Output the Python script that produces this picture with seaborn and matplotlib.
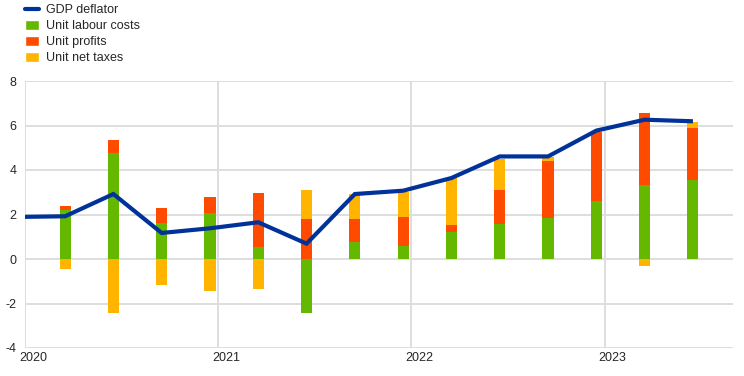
import matplotlib
matplotlib.use("Agg")
import matplotlib.pyplot as plt
from matplotlib.lines import Line2D
from matplotlib.patches import Patch
import seaborn as sns
import pandas as pd
import numpy as np

quarters = ["2020Q1", "2020Q2", "2020Q3", "2020Q4", "2021Q1", "2021Q2", "2021Q3",
            "2021Q4", "2022Q1", "2022Q2", "2022Q3", "2022Q4", "2023Q1", "2023Q2"]
unit_labour = [2.22, 4.76, 1.62, 2.07, 0.55, -2.44, 0.76, 0.57, 1.20, 1.57, 1.83, 2.62, 3.34, 3.55]
unit_profits = [0.15, 0.57, 0.67, 0.73, 2.43, 1.81, 1.05, 1.32, 0.31, 1.52, 2.59, 3.07, 3.22, 2.32]
unit_taxes = [-0.43, -2.43, -1.15, -1.45, -1.33, 1.29, 1.13, 1.12, 2.13, 1.40, 0.16, 0.00, -0.33, 0.30]
deflator_quarters = ["2019Q4"] + quarters
gdp_deflator = [1.89, 1.92, 2.92, 1.17, 1.38, 1.65, 0.69, 2.92, 3.07, 3.64, 4.61, 4.61, 5.77, 6.26, 6.19]
year_labels = ["2020", "2021", "2022", "2023"]

C_LINE = "#003299"
C_LAB = "#65b800"
C_PROF = "#ff4b00"
C_TAX = "#ffb400"
C_GRID = "#dedede"

sns.set_theme(style="white")
plt.rcParams["font.family"] = ["Liberation Sans", "DejaVu Sans"]
plt.rcParams["axes.unicode_minus"] = False

def qidx(q):
    y, k = int(q[:4]), int(q[-1])
    return (y - 2020) * 4 + (k - 1)

x = np.array([qidx(q) for q in quarters], dtype=float)
xd = np.array([qidx(q) for q in deflator_quarters], dtype=float)

fig = plt.figure(figsize=(7.44, 3.76), dpi=100)
ax = fig.add_axes([25 / 744, 1 - 348 / 376, (733 - 25) / 744, (348 - 81) / 376])

width = 0.23
pos_base = np.zeros(len(x))
neg_base = np.zeros(len(x))
for vals, col in [(unit_labour, C_LAB), (unit_profits, C_PROF), (unit_taxes, C_TAX)]:
    v = np.array(vals, dtype=float)
    bottoms = np.where(v >= 0, pos_base, neg_base)
    ax.bar(x, v, width=width, bottom=bottoms, color=col, edgecolor="none", zorder=2)
    pos_base = pos_base + np.where(v >= 0, v, 0)
    neg_base = neg_base + np.where(v < 0, v, 0)

df = pd.DataFrame({"x": xd, "v": gdp_deflator})
sns.lineplot(data=df, x="x", y="v", ax=ax, color=C_LINE, linewidth=3, zorder=3,
             solid_capstyle="butt", solid_joinstyle="miter")

x0 = -0.83
ax.set_xlim(x0, 13.83)
ax.set_ylim(-4, 8)
ax.set_yticks(np.arange(-4, 9, 2))
ax.set_yticklabels([str(int(t)) for t in np.arange(-4, 9, 2)], fontsize=9)
major = [x0 + 4 * i for i in range(4)]
ax.set_xticks(major)
ax.set_xticklabels([])
ax.set_xticks([m + 0.17 for m in major], minor=True)
ax.set_xticklabels(year_labels, minor=True, fontsize=9)
ax.tick_params(axis="x", which="both", length=0, pad=3)
ax.tick_params(axis="y", length=0, pad=6)
ax.grid(True, axis="both", which="major", color=C_GRID, linewidth=1.4, zorder=0)
ax.set_axisbelow(True)
for s in ax.spines.values():
    s.set_visible(False)
ax.set_xlabel("")
ax.set_ylabel("")

handles = [Line2D([0], [0], color=C_LINE, lw=3),
           Patch(facecolor=C_LAB), Patch(facecolor=C_PROF), Patch(facecolor=C_TAX)]
labels = ["GDP deflator", "Unit labour costs", "Unit profits", "Unit net taxes"]
fig.legend(handles, labels, loc="upper left", bbox_to_anchor=(0.027, 1.003), frameon=False,
           fontsize=9, handlelength=1.1, handleheight=0.85, handletextpad=0.6,
           labelspacing=0.3, borderaxespad=0)

fig.savefig("out.png", dpi=100)
